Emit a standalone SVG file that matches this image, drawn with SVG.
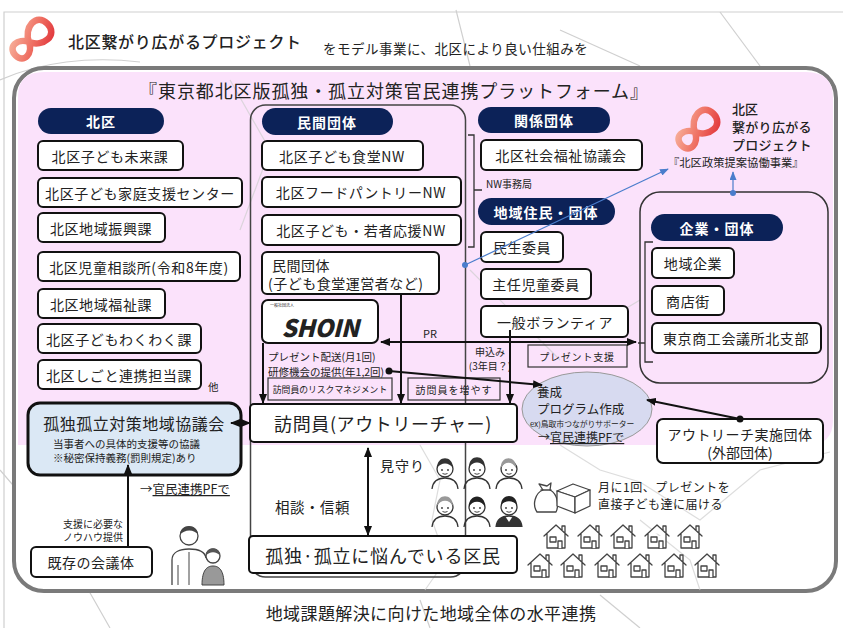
<svg xmlns="http://www.w3.org/2000/svg" width="843" height="628" viewBox="0 0 843 628">
<defs>
<style>
text{font-family:"Noto Sans CJK JP","Noto Sans",sans-serif;fill:#222;dominant-baseline:central}
.box{fill:#fff;stroke:#111;stroke-width:2}
.pill{fill:#0c2258}
.pt{fill:#fff;font-size:14px;font-weight:bold;text-anchor:middle;letter-spacing:1px}
.bt{font-size:14px;text-anchor:middle;letter-spacing:0.6px}
.sub{fill:none;stroke:#333;stroke-width:1.2}
.ln{fill:none;stroke:#111;stroke-width:2}
.thin{fill:none;stroke:#333;stroke-width:1.3}
.blue{fill:none;stroke:#4a7dcc;stroke-width:1.2}
.map{fill:none;stroke:#cfcfcf;stroke-width:1.2}
.ico{fill:#fff;stroke:#444;stroke-width:1.3;stroke-linejoin:round;stroke-linecap:round}
.logo{fill:none;stroke:url(#lg);stroke-width:6.5;stroke-linecap:round}
</style>
<linearGradient id="lg" x1="0" y1="0" x2="1" y2="1">
<stop offset="0" stop-color="#f7b09a"/>
<stop offset="0.6" stop-color="#ee6a5e"/>
<stop offset="1" stop-color="#e23a3f"/>
</linearGradient>
<marker id="ah" viewBox="0 0 10 8" refX="9" refY="4" markerWidth="10" markerHeight="8" markerUnits="userSpaceOnUse" orient="auto-start-reverse">
<path d="M0,0 L10,4 L0,8 Z" fill="#111"/>
</marker>
<marker id="ahb" viewBox="0 0 10 8" refX="9" refY="4" markerWidth="9" markerHeight="7" markerUnits="userSpaceOnUse" orient="auto">
<path d="M0,0 L10,4 L0,8 Z" fill="#4a7dcc"/>
</marker>
<path id="inf" d="M0,0 C6,-14 26,-16 26,0 C26,16 6,14 0,0 C-5,-11 -19,-12 -19,0 C-19,12 -5,11 0,0 Z"/>
<symbol id="face" viewBox="0 0 30 32" overflow="visible">
<circle cx="15" cy="12" r="8" fill="#fff" stroke="#333" stroke-width="1.3"/>
<path d="M2,32 C3,23 9,21 15,21 C21,21 27,23 28,32" fill="none" stroke="#333" stroke-width="1.3"/>
<circle cx="12" cy="13" r="0.9" fill="#333"/><circle cx="18" cy="13" r="0.9" fill="#333"/>
<path d="M12.5,16.5 Q15,18 17.5,16.5" fill="none" stroke="#333" stroke-width="0.9"/>
</symbol>
<symbol id="house" viewBox="0 0 26 26" overflow="visible">
<path d="M1,13 L13,2 L25,13 M19,7.5 V3 H22 V10.5 M4,10.5 V25 H22 V10.5" class="ico" fill="none"/>
<rect x="7" y="14" width="6" height="5" class="ico"/>
<path d="M15,25 V18 H19 V25" class="ico" fill="none"/>
</symbol>
</defs>

<!-- page background with faint map outline -->
<rect width="843" height="628" fill="#fff"/>
<g id="map-back">
<path class="map" d="M4,628 V12 H843"/>
<path class="map" d="M0,80 C40,62 90,56 140,62"/>
<path class="map" d="M456,10 L470,66"/>
<path class="map" d="M560,30 L640,66"/>
<path class="map" d="M720,12 L760,66"/>
<path class="map" d="M0,470 L60,540 L110,628"/>
<path class="map" d="M420,600 L430,628"/>
<path class="map" d="M600,595 L640,628"/>
</g>

<!-- platform frame -->
<rect x="14" y="68" width="822" height="523" rx="30" fill="#fff" stroke="#7a7a7a" stroke-width="4"/>
<path d="M18,96 Q18,72 44,72 H806 Q833,72 833,98 V420 Q833,445 808,445 H18 Z" fill="#fbe2fb"/>

<g id="map-front" opacity="0.7">
<path class="map" d="M420,445 L440,480 L432,520 L446,560 L425,590"/>
<path class="map" d="M560,445 L600,470 L640,482 L700,520 L760,470 L830,452"/>
<path class="map" d="M640,520 L690,560 L700,590"/>
<path class="map" d="M230,80 L270,150 L240,230"/>
<path class="map" d="M470,270 L520,320 L560,360"/>
<path class="map" d="M590,330 L640,300"/>
</g>

<!-- header -->
<g id="header">
<use href="#inf" class="logo" transform="translate(29,42) rotate(-45)"/>
<text x="68" y="41" font-size="16" font-weight="500" letter-spacing="0.7">北区繋がり広がるプロジェクト</text>
<text x="323" y="48" font-size="13.5" letter-spacing="0.5">をモデル事業に、北区により良い仕組みを</text>
<text x="394" y="90" font-size="18" text-anchor="middle" letter-spacing="0.9">『東京都北区版孤独・孤立対策官民連携プラットフォーム』</text>
</g>

<!-- 北区 column -->
<g id="kitaku">
<rect class="pill" x="38" y="108" width="126" height="26" rx="13"/>
<text class="pt" x="101" y="121">北区</text>
</g>
<g id="k1"><rect class="box" x="38" y="141" width="145" height="29" rx="5"/><text class="bt" x="110" y="155.5">北区子ども未来課</text></g>
<g id="k2"><rect class="box" x="38" y="178" width="204" height="29" rx="5"/><text class="bt" x="140" y="192.5">北区子ども家庭支援センター</text></g>
<g id="k3"><rect class="box" x="38" y="213" width="127" height="29" rx="5"/><text class="bt" x="101" y="227.5">北区地域振興課</text></g>
<g id="k4"><rect class="box" x="38" y="252" width="202" height="29" rx="5"/><text class="bt" x="139" y="266.5">北区児童相談所(令和8年度)</text></g>
<g id="k5"><rect class="box" x="38" y="289" width="127" height="29" rx="5"/><text class="bt" x="101" y="303.5">北区地域福祉課</text></g>
<g id="k6"><rect class="box" x="38" y="324" width="163" height="29" rx="5"/><text class="bt" x="119" y="338.5">北区子どもわくわく課</text></g>
<g id="k7"><rect class="box" x="38" y="360" width="163" height="29" rx="5"/><text class="bt" x="119" y="374.5">北区しごと連携担当課</text></g>
<text x="208" y="386" font-size="10.5">他</text>

<!-- 民間団体 column -->
<g id="minkan">
<rect x="250.5" y="105" width="215" height="472" rx="15" fill="none" stroke="#444" stroke-width="1.5"/>
<rect class="pill" x="262" y="108" width="131" height="27" rx="13.5"/>
<text class="pt" x="327" y="121.5">民間団体</text>
</g>
<g id="m1"><rect class="box" x="262" y="141" width="161" height="29" rx="5"/><text class="bt" x="342" y="155.5">北区子ども食堂NW</text></g>
<g id="m2"><rect class="box" x="262" y="177" width="199" height="30" rx="5"/><text class="bt" x="361" y="192">北区フードパントリーNW</text></g>
<g id="m3"><rect class="box" x="262" y="215" width="199" height="30" rx="5"/><text class="bt" x="361" y="230">北区子ども・若者応援NW</text></g>
<g id="m4"><rect class="box" x="262" y="252" width="177" height="42" rx="5"/>
<text x="272" y="265" font-size="14" letter-spacing="0.5">民間団体</text>
<text x="268" y="283" font-size="14" letter-spacing="0.5">(子ども食堂運営者など)</text></g>
<g id="shoin"><rect class="box" x="262" y="300" width="116" height="43" rx="6"/>
<text x="270" y="305" font-size="4" fill="#444">一般社団法人</text>
<text x="320" y="326" font-size="24" font-weight="900" font-style="italic" text-anchor="middle" font-family="'DejaVu Sans',sans-serif" letter-spacing="-0.5" fill="#111">SHOIN</text></g>

<!-- 関係団体 / 地域住民 column -->
<g id="kankei">
<rect class="pill" x="478" y="107" width="132" height="26" rx="13"/>
<text class="pt" x="544" y="120">関係団体</text>
</g>
<g id="r1"><rect class="box" x="481" y="140" width="161" height="30" rx="5"/><text class="bt" x="561" y="155">北区社会福祉協議会</text></g>
<text x="486" y="183" font-size="10" fill="#555">NW事務局</text>
<g id="chiiki">
<rect class="pill" x="478" y="198" width="137" height="27" rx="13.5"/>
<text class="pt" x="546" y="211.5">地域住民・団体</text>
</g>
<g id="c1"><rect class="box" x="481" y="232" width="82" height="30" rx="5"/><text class="bt" x="522" y="247">民生委員</text></g>
<g id="c2"><rect class="box" x="481" y="269" width="110" height="30" rx="5"/><text class="bt" x="536" y="284">主任児童委員</text></g>
<g id="c3"><rect class="box" x="481" y="306" width="147" height="31" rx="5"/><text class="bt" x="555" y="321.5">一般ボランティア</text></g>

<!-- 北区繋がり広がるプロジェクト -->
<g id="project">
<use href="#inf" class="logo" transform="translate(695,132) rotate(-45)"/>
<text x="732" y="108" font-size="13" font-weight="500">北区</text>
<text x="732" y="126" font-size="13" font-weight="500" letter-spacing="0.3">繋がり広がる</text>
<text x="732" y="144" font-size="13" font-weight="500" letter-spacing="0.3">プロジェクト</text>
<text x="668" y="162" font-size="11.3" fill="#444">『北区政策提案協働事業』</text>
</g>

<!-- 企業・団体 -->
<g id="kigyo">
<rect x="640" y="192" width="188" height="191" rx="20" fill="none" stroke="#333" stroke-width="1.5"/>
<rect class="pill" x="651" y="214" width="132" height="27" rx="13.5"/>
<text class="pt" x="717" y="227.5">企業・団体</text>
</g>
<g id="e1"><rect class="box" x="652" y="248" width="82" height="30" rx="5"/><text class="bt" x="693" y="263">地域企業</text></g>
<g id="e2"><rect class="box" x="652" y="286" width="72" height="29" rx="5"/><text class="bt" x="688" y="300.5">商店街</text></g>
<g id="e3"><rect class="box" x="652" y="323" width="169" height="30" rx="5"/><text class="bt" x="736" y="338">東京商工会議所北支部</text></g>

<!-- outreach workers and supporting notes -->
<g id="notes">
<text x="430" y="333" font-size="11" text-anchor="middle">PR</text>
<text x="268" y="356" font-size="10.5" fill="#333">プレゼント配送(月1回)</text>
<text x="268" y="371" font-size="10.5" fill="#333">研修機会の提供(年1,2回)</text>
<rect class="sub" x="268" y="378" width="124" height="22"/>
<text x="330" y="389" font-size="8.8" text-anchor="middle" fill="#333">訪問員のリスクマネジメント</text>
<rect class="sub" x="408" y="378" width="92" height="22"/>
<text x="454" y="389" font-size="10" text-anchor="middle" letter-spacing="1" fill="#333">訪問員を増やす</text>
<text x="490" y="351" font-size="10" text-anchor="middle" fill="#333">申込み</text>
<text x="490" y="365" font-size="10" text-anchor="middle" fill="#333">(3年目？)</text>
<rect class="sub" x="528" y="345" width="99" height="22"/>
<text x="577" y="356" font-size="10" text-anchor="middle" letter-spacing="0.8" fill="#333">プレゼント支援</text>
</g>

<g id="houmonin"><rect class="box" x="250" y="404" width="267" height="38" rx="4"/>
<text x="383" y="423" font-size="18" text-anchor="middle" letter-spacing="0.6">訪問員(アウトリーチャー)</text></g>

<g id="kyogikai"><rect x="28" y="403" width="213" height="72" rx="12" fill="#dbe8f5" stroke="#111" stroke-width="3"/>
<text x="134" y="423" font-size="16" text-anchor="middle" letter-spacing="0.5">孤独孤立対策地域協議会</text>
<text x="53" y="443" font-size="10.5" fill="#333">当事者への具体的支援等の協議</text>
<text x="53" y="457" font-size="10.5" fill="#333">※秘密保持義務(罰則規定)あり</text></g>

<g id="yosei"><ellipse cx="587" cy="409" rx="65" ry="37" fill="#d7daf0" stroke="#999" stroke-width="1"/>
<text x="537" y="391" font-size="12.5">養成</text>
<text x="537" y="408" font-size="12.5">プログラム作成</text>
<text x="530" y="423" font-size="7.8">ex)鳥取市つながりサポーター</text>
<text x="538" y="436" font-size="12">→<tspan text-decoration="underline">官民連携PFで</tspan></text></g>

<g id="outreach"><rect class="box" x="657" y="419" width="166" height="44" rx="6"/>
<text x="740" y="434" font-size="14" text-anchor="middle" letter-spacing="0.5">アウトリーチ実施団体</text>
<text x="740" y="452" font-size="14" text-anchor="middle">(外部団体)</text></g>

<g id="kizon"><rect class="box" x="31" y="547" width="121" height="30" rx="5"/>
<text x="91" y="562" font-size="14" text-anchor="middle" letter-spacing="0.5">既存の会議体</text></g>
<text x="140" y="488" font-size="12.5">→<tspan text-decoration="underline">官民連携PFで</tspan></text>
<text x="123" y="523" font-size="10" text-anchor="end" fill="#333">支援に必要な</text>
<text x="123" y="536" font-size="10" text-anchor="end" fill="#333">ノウハウ提供</text>

<g id="kumin"><rect class="box" x="249" y="536" width="268" height="37" rx="4"/>
<text x="383" y="554.5" font-size="18" text-anchor="middle" letter-spacing="0.8">孤独·孤立に悩んでいる区民</text></g>
<text x="380" y="465" font-size="14" letter-spacing="1">見守り</text>
<text x="275" y="506" font-size="14.5" letter-spacing="0.5">相談・信頼</text>

<!-- neighbourhood illustrations -->
<g id="residents">
<use href="#face" x="430" y="457" width="30" height="32"/>
<path d="M437,468 C437,455 453,455 453,468 C449,462 441,462 437,468 Z" fill="#333"/>
<use href="#face" x="462" y="457" width="30" height="32"/>
<path d="M469,467 C469,454 485,454 485,467 C481,461 473,461 469,467 Z" fill="#333"/>
<use href="#face" x="494" y="457" width="30" height="32"/>
<path d="M501,468 C500,455 517,455 516,468 C512,461 505,461 501,468 Z" fill="#999"/>
<use href="#face" x="430" y="495" width="30" height="32"/>
<path d="M437,506 C437,493 453,493 453,506 C449,499 441,499 437,506 Z" fill="#999"/>
<use href="#face" x="462" y="495" width="30" height="32"/>
<path d="M469,507 C468,493 486,493 485,507 C482,500 472,500 469,507 Z" fill="#222"/>
<use href="#face" x="494" y="495" width="30" height="32"/>
<path d="M501,505 C501,493 517,493 517,505 C513,500 505,500 501,505 Z" fill="#222"/>
<path d="M496,527 C497,519 502,517 505,516 L509,522 L513,516 C516,517 521,519 522,527 Z" fill="#333"/>
</g>

<g id="gift">
<path class="ico" d="M537,512 C532,505 535,493 543,490 L539,484 L547,486 L551,483 L550,490 C558,494 559,506 556,512 Z"/>
<path class="ico" d="M541,490 H551" fill="none"/>
<path class="ico" d="M557,491 L573,484 L590,490 L575,497 Z"/>
<path class="ico" d="M557,491 L575,497 L575,513 L557,506 Z"/>
<path class="ico" d="M575,497 L590,490 L590,506 L575,513 Z"/>
</g>
<text x="598" y="486" font-size="12" letter-spacing="0.5" fill="#333">月に1回、プレゼントを</text>
<text x="598" y="503" font-size="12" letter-spacing="0.5" fill="#333">直接子ども達に届ける</text>

<g id="houses">
<use href="#house" x="543" y="523" width="26" height="26"/>
<use href="#house" x="577" y="523" width="26" height="26"/>
<use href="#house" x="610" y="523" width="26" height="26"/>
<use href="#house" x="644" y="523" width="26" height="26"/>
<use href="#house" x="677" y="523" width="26" height="26"/>
<use href="#house" x="527" y="552" width="26" height="26"/>
<use href="#house" x="560" y="552" width="26" height="26"/>
<use href="#house" x="594" y="552" width="26" height="26"/>
<use href="#house" x="627" y="552" width="26" height="26"/>
<use href="#house" x="661" y="552" width="26" height="26"/>
<use href="#house" x="694" y="552" width="26" height="26"/>
</g>

<g id="family">
<circle cx="189" cy="536" r="9" fill="#fff" stroke="#444" stroke-width="1.3"/>
<path d="M180,535 C180,523 198,523 198,535 C195,529 184,529 180,535 Z" fill="#444"/>
<path d="M172,585 V560 C172,552 180,549 189,549 C198,549 205,552 206,558" fill="none" stroke="#444" stroke-width="1.3"/>
<path d="M189,552 V585 M178,565 V585" fill="none" stroke="#444" stroke-width="1"/>
<circle cx="213" cy="556" r="7" fill="#fff" stroke="#444" stroke-width="1.3"/>
<path d="M206,556 C205,546 221,546 220,556 C217,551 209,551 206,556 Z" fill="#555"/>
<path d="M202,585 C202,570 207,566 213,566 C219,566 224,570 224,585 Z" fill="#999" stroke="#444" stroke-width="1"/>
</g>

<text x="431" y="612" font-size="17" text-anchor="middle" letter-spacing="0.4">地域課題解決に向けた地域全体の水平連携</text>

<!-- connectors -->
<g id="connectors">
<path class="thin" d="M468,135 H474 V247 H468 M474,190 H482"/>
<path class="thin" d="M653,242 H645 V362 H653 M645,343 H638"/>
<path class="ln" d="M263,343 V403" marker-end="url(#ah)"/>
<path class="ln" d="M381,342 H636" marker-start="url(#ah)" marker-end="url(#ah)"/>
<path class="ln" d="M401,294 V403" stroke-width="1.5" marker-end="url(#ah)"/>
<path class="ln" d="M510,330 V403" stroke-width="1.5" marker-end="url(#ah)"/>
<circle cx="389" cy="371" r="3.5" fill="#111"/>
<path class="ln" d="M389,371 L542,385" marker-end="url(#ah)"/>
<circle cx="740" cy="419" r="3.5" fill="#111"/>
<path class="ln" d="M740,419 L647,400" marker-end="url(#ah)"/>
<path class="ln" d="M231,423 H250" marker-start="url(#ah)" marker-end="url(#ah)"/>
<path class="ln" d="M128,547 V465" marker-end="url(#ah)"/>
<path class="ln" d="M368,448 V535" stroke-width="2.5" marker-start="url(#ah)" marker-end="url(#ah)"/>
<circle cx="465" cy="265" r="3" fill="#4a7dcc"/>
<path class="blue" d="M465,265 L668,169" marker-end="url(#ahb)"/>
<circle cx="733" cy="193" r="3" fill="#4a7dcc"/>
<path class="blue" d="M733,193 V172" marker-end="url(#ahb)"/>
</g>
</svg>
